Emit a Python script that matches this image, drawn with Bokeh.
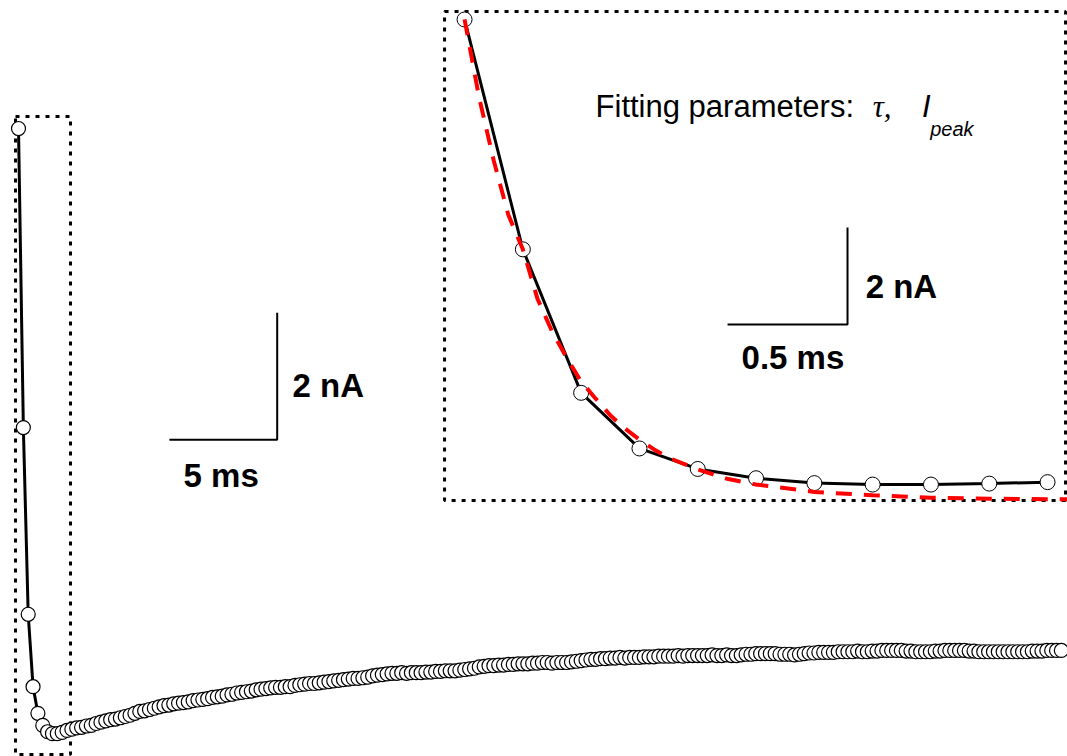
import numpy as np
from bokeh.plotting import figure
from bokeh.models import Range1d, Label
from bokeh.embed import file_html
from bokeh.resources import INLINE

# ---------------- data ----------------
dt_ms = 0.225  # sampling interval (ms)

# recorded current trace (nA), one value per sample
current_nA = [
    0.00, -4.71, -7.65, -8.79, -9.21, -9.40, -9.50, -9.53, -9.53, -9.51, -9.48,
    -9.46, -9.44, -9.43, -9.41, -9.40, -9.37, -9.35, -9.33, -9.31, -9.30,
    -9.28, -9.26, -9.24, -9.21, -9.18, -9.17, -9.15, -9.13, -9.11, -9.09,
    -9.08, -9.06, -9.05, -9.04, -9.03, -9.01, -9.00, -8.99, -8.98, -8.96,
    -8.95, -8.94, -8.92, -8.91, -8.89, -8.88, -8.87, -8.86, -8.84, -8.83,
    -8.82, -8.81, -8.80, -8.80, -8.79, -8.79, -8.77, -8.76, -8.75, -8.74,
    -8.74, -8.73, -8.72, -8.71, -8.70, -8.69, -8.68, -8.67, -8.66, -8.66,
    -8.65, -8.64, -8.62, -8.61, -8.60, -8.59, -8.58, -8.58, -8.57, -8.58,
    -8.57, -8.57, -8.57, -8.56, -8.56, -8.55, -8.55, -8.54, -8.54, -8.54,
    -8.53, -8.52, -8.51, -8.50, -8.48, -8.47, -8.46, -8.46, -8.45, -8.45,
    -8.44, -8.44, -8.43, -8.43, -8.43, -8.42, -8.42, -8.41, -8.41, -8.42,
    -8.41, -8.41, -8.41, -8.40, -8.39, -8.38, -8.37, -8.36, -8.36, -8.35,
    -8.35, -8.34, -8.34, -8.33, -8.34, -8.33, -8.33, -8.33, -8.32, -8.32,
    -8.32, -8.31, -8.31, -8.31, -8.31, -8.30, -8.31, -8.30, -8.30, -8.30,
    -8.30, -8.30, -8.29, -8.30, -8.30, -8.29, -8.30, -8.30, -8.29, -8.28,
    -8.28, -8.27, -8.27, -8.27, -8.27, -8.27, -8.28, -8.28, -8.28, -8.29,
    -8.28, -8.27, -8.26, -8.26, -8.25, -8.25, -8.25, -8.25, -8.24, -8.24,
    -8.24, -8.24, -8.23, -8.24, -8.24, -8.23, -8.23, -8.22, -8.22, -8.22,
    -8.22, -8.22, -8.23, -8.23, -8.24, -8.24, -8.24, -8.24, -8.23, -8.23,
    -8.22, -8.22, -8.22, -8.22, -8.22, -8.23, -8.23, -8.24, -8.24, -8.24,
    -8.24, -8.24, -8.24, -8.24, -8.24, -8.24, -8.24, -8.24, -8.23, -8.23,
    -8.23, -8.22, -8.22, -8.22, -8.22,
]
time_ms = [i * dt_ms for i in range(len(current_nA))]

# zoomed inset: first samples of the decay
n_inset = 11
inset_time_ms = time_ms[:n_inset]
inset_current_nA = current_nA[:n_inset]

# exponential fit (red dashed)
fit_time_samples = [0, 0.25, 0.5, 0.75, 1, 1.25, 1.5, 1.75, 2, 2.25, 2.5, 2.75,
                    3, 3.25, 3.5, 3.75, 4, 4.5, 5, 6, 7, 8, 9, 10, 10.4]
fit_current_nA = [0.00, -1.60, -2.89, -4.00, -4.71, -5.72, -6.39, -6.93, -7.42,
                  -7.77, -8.11, -8.38, -8.61, -8.81, -8.98, -9.10, -9.22, -9.41,
                  -9.53, -9.68, -9.75, -9.80, -9.82, -9.83, -9.83]
fit_time_ms = [s * dt_ms for s in fit_time_samples]

# ---------------- figure ----------------
W, H = 1067, 756
p = figure(width=W, height=H, output_backend="svg", toolbar_location=None,
           x_range=Range1d(-0.835, 48.66), y_range=Range1d(-9.890, 2.016),
           min_border=0, min_border_left=0, min_border_right=0,
           min_border_top=0, min_border_bottom=0)
p.xaxis.visible = False
p.yaxis.visible = False
p.grid.visible = False
p.outline_line_color = None
p.background_fill_color = "white"
p.border_fill_color = "white"

p.extra_x_ranges = {"ix": Range1d(-1.791, 2.327)}
p.extra_y_ranges = {"iy": Range1d(-15.102, 0.389)}

DOT = "4 6"
FONT = "Liberation Sans"


def label(x, y, text, size, style="bold", font=FONT, inset=False):
    kw = dict(x_range_name="ix", y_range_name="iy") if inset else {}
    p.add_layout(Label(x=x, y=y, text=text, text_font=font,
                       text_font_size=size, text_font_style=style,
                       text_color="black", text_baseline="middle",
                       text_align="left", **kw))


# dotted box around the early part of the main trace
p.quad(left=[-0.139], right=[2.412], top=[0.189], bottom=[-9.858],
       fill_color=None, line_color="black", line_width=3, line_dash=DOT)

# main trace
p.line(time_ms, current_nA, line_color="black", line_width=3)
p.scatter(time_ms, current_nA, size=14, marker="circle",
          fill_color="white", line_color="black", line_width=1.2)

# main scale bars
p.line([7.0, 12.0, 12.0], [-4.9, -4.9, -2.9], line_color="black", line_width=2)
label(12.71, -4.047, "2 nA", "33px")
label(7.655, -5.465, "5 ms", "33px")

# ---------------- inset ----------------
p.quad(left=[-0.0772], right=[2.3195], top=[0.164], bottom=[-9.857],
       fill_color=None, line_color="black", line_width=3, line_dash=DOT,
       x_range_name="ix", y_range_name="iy")

p.line(inset_time_ms, inset_current_nA, line_color="black", line_width=3,
       x_range_name="ix", y_range_name="iy")
p.scatter(inset_time_ms, inset_current_nA, size=15, marker="circle",
          fill_color="white", line_color="black", line_width=1,
          x_range_name="ix", y_range_name="iy")
p.line(fit_time_ms, fit_current_nA, line_color="red", line_width=4,
       line_dash="16 12", x_range_name="ix", y_range_name="iy")

# inset scale bars
p.line([1.015, 1.478, 1.478], [-6.25, -6.25, -4.262], line_color="black",
       line_width=2, x_range_name="ix", y_range_name="iy")
label(1.548, -5.471, "2 nA", "33px", inset=True)
label(1.069, -6.926, "0.5 ms", "33px", inset=True)

# fitting-parameters caption
label(0.5056, -1.783, "Fitting parameters:", "31px", style="normal", inset=True)
label(1.575, -1.783, "τ,", "31px", style="italic", font="Liberation Serif", inset=True)
label(1.765, -1.783, "I", "31px", style="italic", inset=True)
label(1.797, -2.25, "peak", "20px", style="italic", inset=True)

open("out.html", "w").write(file_html(p, INLINE))
